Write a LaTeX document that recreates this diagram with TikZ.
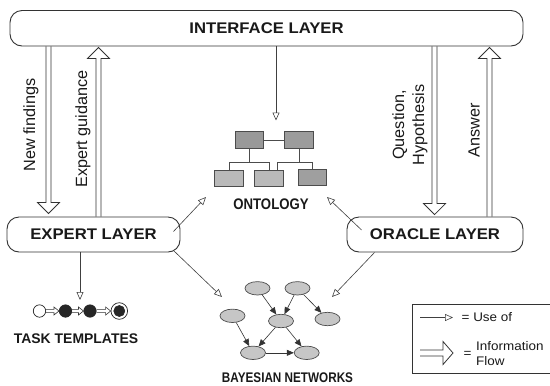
\documentclass[tikz,border=0pt]{standalone}
\usepackage{fontspec}
\setmainfont{Liberation Sans}
\usepackage{graphicx}
\usetikzlibrary{arrows.meta,shapes.geometric,calc}
\newcommand\hsc[2]{\scalebox{#1}[1]{#2}}
\newcommand\fgap{2.5bp}
\newcommand\fwid{11bp}
\newcommand\flen{11bp}
\tikzset{
  flowshape/.style={draw=black!80, line width=0.8bp, line join=miter,
    to path={let \p1=($(\tikztotarget)!\flen!(\tikztostart)$) in
      ($(\tikztostart)!\fgap!90:(\tikztotarget)$) -- ($(\p1)!\fgap!90:(\tikztotarget)$)
      -- ($(\p1)!\fwid!90:(\tikztotarget)$) -- (\tikztotarget)
      -- ($(\p1)!\fwid!-90:(\tikztotarget)$) -- ($(\p1)!\fgap!-90:(\tikztotarget)$)
      -- ($(\tikztostart)!\fgap!-90:(\tikztotarget)$)}},
  bigflow/.style={flowshape},
  smallflow/.style={flowshape, line width=0.6bp,
    /utils/exec={\renewcommand\fgap{1.6bp}\renewcommand\fwid{4bp}\renewcommand\flen{5bp}}},
  legflow/.style={flowshape,
    /utils/exec={\renewcommand\fgap{3bp}\renewcommand\fwid{11.5bp}\renewcommand\flen{10bp}}},
  layer/.style={draw=black!80, line width=0.9bp, rounded corners=12bp, inner sep=0pt,
    fill=white, text=black!90, font=\bfseries\fontsize{15.5}{18}\selectfont},
  lbl/.style={font=\fontsize{16.3}{20}\selectfont, rotate=90, align=center,
    inner sep=0pt, text=black!90},
  caption/.style={inner sep=0pt, text=black!90},
  obox/.style={draw=black!70, line width=0.7bp, minimum width=28.5bp,
    minimum height=16.5bp, inner sep=0pt},
  oline/.style={draw=black!70, line width=0.7bp},
  bnode/.style={ellipse, draw=black!70, line width=0.7bp, fill=gray!45,
    minimum width=25bp, minimum height=13.4bp, inner sep=0pt},
  bnarrow/.style={draw=black!80, line width=0.6bp, -{Triangle[length=7bp,width=6bp]}},
  useof/.style={draw=black!75, line width=0.6bp, -{Triangle[open,length=8bp,width=7bp]}},
  tcirc/.style={circle, draw=black!85, line width=0.7bp, inner sep=0pt},
  legtext/.style={inner sep=0pt, text=black!90, font=\fontsize{12.5}{15.5}\selectfont}
}
\begin{document}
\begin{tikzpicture}[x=1bp,y=-1bp]
\useasboundingbox (0,0) rectangle (550,385);

% layers
\node[layer, minimum width=513bp, minimum height=35.5bp] (iface) at (266.5,28.25) {\hsc{1.08}{INTERFACE LAYER}};
\node[layer, minimum width=173bp, minimum height=35bp] (expert) at (93.5,234.5) {\hsc{1.08}{EXPERT LAYER}};
\node[layer, minimum width=176bp, minimum height=35bp] (oracle) at (435,234.5) {\hsc{1.08}{ORACLE LAYER}};

% columns for the information-flow arrows
\coordinate (cNF) at (48.5,0);
\coordinate (cEG) at (98.5,0);
\coordinate (cQH) at (434.5,0);
\coordinate (cAN) at (489.5,0);
\coordinate (cON) at (276,0);
\coordinate (cTT) at (80,0);

\coordinate (nfA) at (iface.south -| cNF);
\coordinate (nfB) at ($(expert.north -| cNF)+(0,-3)$);
\coordinate (egA) at (expert.north -| cEG);
\coordinate (egB) at ($(iface.south -| cEG)+(0,1)$);
\coordinate (qhA) at (iface.south -| cQH);
\coordinate (qhB) at ($(oracle.north -| cQH)+(0,-2)$);
\coordinate (anA) at (oracle.north -| cAN);
\coordinate (anB) at ($(iface.south -| cAN)+(0,1)$);

\draw[bigflow] (nfA) to (nfB);
\draw[bigflow] (egA) to (egB);
\draw[bigflow] (qhA) to (qhB);
\draw[bigflow] (anA) to (anB);

\node[lbl] (tNF) at (31,125) {New findings};
\node[lbl] (tEG) at (83,129) {Expert guidance};
\node[lbl] (tQH) at (410,125) {Question,\\Hypothesis};
\node[lbl] (tAN) at (474,130) {Answer};

% ontology
\node[obox, fill=gray!80] (oTL) at (249.5,140) {};
\node[obox, fill=gray!78] (oTR) at (299,140) {};
\node[obox, fill=gray!55] (oB1) at (229,178.5) {};
\node[obox, fill=gray!55] (oB2) at (269,178.5) {};
\node[obox, fill=gray!75] (oB3) at (312.5,177.5) {};
\draw[oline] (oTL.east) -- (oTR.west);
\draw[oline] (oTL.south) -- ++(0,14) coordinate (oJL) -| (oB1.north);
\draw[oline] (oJL) -| (oB2.north);
\draw[oline] (oTR.south) -- ++(0,14) coordinate (oJR) -| ([xshift=8bp]oB2.north);
\draw[oline] (oJR) -| (oB3.north);
\node[caption, font=\bfseries\fontsize{15.4}{18}\selectfont] (tOnt) at (271,204.7) {\hsc{0.86}{ONTOLOGY}};

% bayesian network
\node[bnode] (n1) at (257.5,288.3) {};
\node[bnode] (n2) at (297.5,288.3) {};
\node[bnode] (n3) at (232.5,315.8) {};
\node[bnode] (n4) at (281,321) {};
\node[bnode] (n5) at (327.5,319) {};
\node[bnode] (n6) at (253,352.8) {};
\node[bnode] (n7) at (306.7,352.8) {};
\draw[bnarrow] (n1) -- (n4);
\draw[bnarrow] (n2) -- (n4);
\draw[bnarrow] (n2) -- (n5);
\draw[bnarrow] (n3) -- (n6);
\draw[bnarrow] (n4) -- (n6);
\draw[bnarrow] (n4) -- (n7);
\draw[bnarrow] (n6) -- (n7);
\node[caption, font=\bfseries\fontsize{14}{17}\selectfont] (tBN) at (287.5,377.7) {\hsc{0.84}{BAYESIAN NETWORKS}};

% task templates
\node[tcirc, fill=white, minimum size=12.4bp] (t1) at (39.5,311) {};
\node[tcirc, fill=black!85, minimum size=12.4bp] (t2) at (65.5,311) {};
\node[tcirc, fill=black!85, minimum size=12.4bp] (t3) at (90,311) {};
\node[tcirc, minimum size=16.6bp] (t4) at (119.3,311) {};
\node[tcirc, fill=black!85, minimum size=11bp] (t4i) at (t4) {};
\draw[smallflow] (t1.east) to (t2.west);
\draw[smallflow] (t2.east) to (t3.west);
\draw[smallflow] (t3.east) to (t4.west);
\node[caption, font=\bfseries\fontsize{14}{17}\selectfont] (tTT) at (76,338.2) {TASK TEMPLATES};

% "use of" connectors
\coordinate (ontoTop) at (276,120.5);
\coordinate (ontoL) at (206,197);
\coordinate (ontoR) at (327,197);
\coordinate (bnL) at (222,297);
\coordinate (bnR) at (332,297);
\coordinate (ttTip) at (80,300);
\draw[useof] (iface.south -| cON) -- (ontoTop);
\draw[useof] ([shift={(-7,-3)}]expert.east) -- (ontoL);
\draw[useof] ([shift={(15,-4.5)}]oracle.west) -- (ontoR);
\draw[useof] ([shift={(-7,-2)}]expert.south east) -- (bnL);
\draw[useof] ([xshift=28bp]oracle.south west) -- (bnR);
\draw[useof] (expert.south -| cTT) -- (ttTip);

% legend
\draw[draw=black!80, line width=0.8bp] (551,304.3) -| (412.7,373.3) -- (551,373.3);
\coordinate (l1a) at (420,317.5);
\coordinate (l1b) at (453,317.5);
\draw[useof] (l1a) -- (l1b);
\node[legtext, anchor=west] (l1t) at (461.5,317.5) {\hsc{1.08}{= Use of}};
\coordinate (l2a) at (420,353);
\coordinate (l2b) at (453,353);
\draw[legflow] (l2a) to (l2b);
\node[legtext] (l2eq) at (467.5,354) {\hsc{1.08}{=}};
\node[legtext, anchor=west, align=left] (l2t) at (476,353.5) {\hsc{1.08}{Information}\\\hsc{1.08}{Flow}};
\end{tikzpicture}
\end{document}
